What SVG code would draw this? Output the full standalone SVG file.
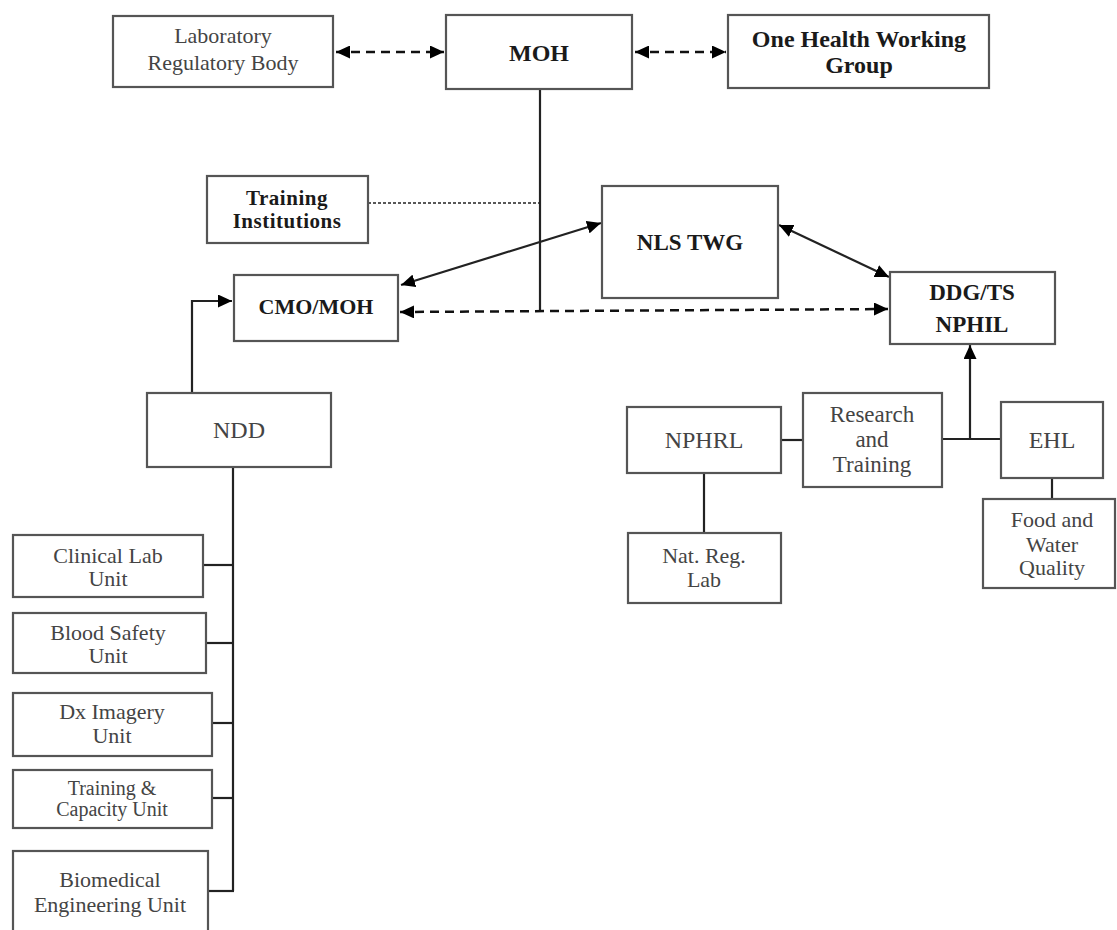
<svg xmlns="http://www.w3.org/2000/svg" width="1117" height="930" viewBox="0 0 1117 930">
<style>
.box{fill:#fff;stroke:#555;stroke-width:2.2}
.t{font-family:"Liberation Serif","Times New Roman",serif;font-size:22px;fill:#444;text-anchor:middle}
.b{font-family:"Liberation Serif","Times New Roman",serif;font-weight:bold;font-size:22px;fill:#1a1a1a;text-anchor:middle}
.ln{fill:none;stroke:#222;stroke-width:2.2}
.dash{fill:none;stroke:#111;stroke-width:2.5;stroke-dasharray:9,6}
.dot{fill:none;stroke:#222;stroke-width:1.5;stroke-dasharray:3,2}
</style>
<defs>
<marker id="ah" markerUnits="userSpaceOnUse" markerWidth="15" markerHeight="13" refX="14" refY="6.5" orient="auto-start-reverse">
<path d="M0,0 L14,6.5 L0,13 z" fill="#000"/>
</marker>
</defs>
<g id="connectors">
<line class="dash" x1="336" y1="52" x2="444" y2="52" marker-start="url(#ah)" marker-end="url(#ah)"/>
<line class="dash" x1="635" y1="52" x2="726" y2="52" marker-start="url(#ah)" marker-end="url(#ah)"/>
<line class="ln" x1="540" y1="89" x2="540" y2="311"/>
<line class="dot" x1="368" y1="203" x2="540" y2="203"/>
<line class="dash" x1="400" y1="312" x2="888" y2="309" marker-start="url(#ah)" marker-end="url(#ah)"/>
<line class="ln" x1="601" y1="223" x2="401" y2="285" marker-start="url(#ah)" marker-end="url(#ah)"/>
<line class="ln" x1="779" y1="225" x2="889" y2="277" marker-start="url(#ah)" marker-end="url(#ah)"/>
<polyline class="ln" points="192,393 192,301 232,301" marker-end="url(#ah)"/>
<line class="ln" x1="233" y1="467" x2="233" y2="891"/>
<line class="ln" x1="203" y1="565" x2="233" y2="565"/>
<line class="ln" x1="206" y1="643" x2="233" y2="643"/>
<line class="ln" x1="212" y1="723" x2="233" y2="723"/>
<line class="ln" x1="212" y1="798" x2="233" y2="798"/>
<line class="ln" x1="208" y1="891" x2="234" y2="891"/>
<line class="ln" x1="970" y1="439" x2="970" y2="345" marker-end="url(#ah)"/>
<line class="ln" x1="942" y1="439" x2="1001" y2="439"/>
<line class="ln" x1="781" y1="440" x2="803" y2="440"/>
<line class="ln" x1="704" y1="473" x2="704" y2="533"/>
<line class="ln" x1="1052" y1="478" x2="1052" y2="499"/>
</g>
<g id="lrb"><rect class="box" x="113" y="16" width="220" height="71"/><text class="t" x="223" y="43">Laboratory</text><text class="t" x="223" y="70">Regulatory Body</text></g>
<g id="moh"><rect class="box" x="446" y="15" width="186" height="74"/><text class="b" x="539" y="61" style="font-size:24px">MOH</text></g>
<g id="ohwg"><rect class="box" x="728" y="15" width="261" height="73"/><text class="b" x="859" y="47" style="font-size:24px">One Health Working</text><text class="b" x="859" y="73" style="font-size:24px">Group</text></g>
<g id="ti"><rect class="box" x="207" y="176" width="161" height="67"/><text class="b" x="287" y="205" style="font-size:21px;letter-spacing:0.5px">Training</text><text class="b" x="287" y="228" style="font-size:21px;letter-spacing:0.5px">Institutions</text></g>
<g id="cmo"><rect class="box" x="234" y="275" width="164" height="66"/><text class="b" x="316" y="314">CMO/MOH</text></g>
<g id="nls"><rect class="box" x="602" y="186" width="176" height="112"/><text class="b" x="690" y="250" style="font-size:23px">NLS TWG</text></g>
<g id="ddg"><rect class="box" x="890" y="272" width="165" height="72"/><text class="b" x="972" y="300" style="font-size:23px">DDG/TS</text><text class="b" x="972" y="332" style="font-size:23px">NPHIL</text></g>
<g id="nphrl"><rect class="box" x="627" y="407" width="154" height="66"/><text class="t" x="704" y="448" style="font-size:24px">NPHRL</text></g>
<g id="rt"><rect class="box" x="803" y="393" width="139" height="94"/><text class="t" x="872" y="422" style="font-size:23px">Research</text><text class="t" x="872" y="447" style="font-size:23px">and</text><text class="t" x="872" y="472" style="font-size:23px">Training</text></g>
<g id="ehl"><rect class="box" x="1001" y="402" width="102" height="76"/><text class="t" x="1052" y="448" style="font-size:24px">EHL</text></g>
<g id="natreg"><rect class="box" x="628" y="533" width="153" height="70"/><text class="t" x="704" y="563">Nat. Reg.</text><text class="t" x="704" y="587">Lab</text></g>
<g id="fwq"><rect class="box" x="983" y="499" width="132" height="89"/><text class="t" x="1052" y="527">Food and</text><text class="t" x="1052" y="552">Water</text><text class="t" x="1052" y="575">Quality</text></g>
<g id="ndd"><rect class="box" x="147" y="393" width="184" height="74"/><text class="t" x="239" y="438" style="font-size:24px">NDD</text></g>
<g id="clu"><rect class="box" x="13" y="535" width="190" height="62"/><text class="t" x="108" y="563">Clinical Lab</text><text class="t" x="108" y="586">Unit</text></g>
<g id="bsu"><rect class="box" x="13" y="613" width="193" height="60"/><text class="t" x="108" y="640">Blood Safety</text><text class="t" x="108" y="663">Unit</text></g>
<g id="dxu"><rect class="box" x="13" y="693" width="199" height="63"/><text class="t" x="112" y="719">Dx Imagery</text><text class="t" x="112" y="743">Unit</text></g>
<g id="tcu"><rect class="box" x="13" y="770" width="199" height="58"/><text class="t" x="112" y="795" style="font-size:20px">Training &amp;</text><text class="t" x="112" y="816" style="font-size:20px">Capacity Unit</text></g>
<g id="beu"><rect class="box" x="13" y="851" width="195" height="90"/><text class="t" x="110" y="887">Biomedical</text><text class="t" x="110" y="912">Engineering Unit</text></g>
</svg>
